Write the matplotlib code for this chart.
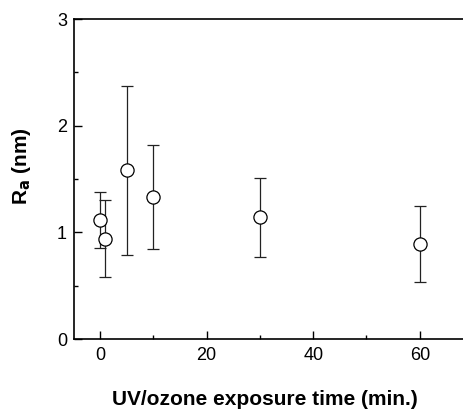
import matplotlib
matplotlib.use('Agg')
import matplotlib.pyplot as plt
from matplotlib.ticker import MultipleLocator

plt.rcParams['font.family'] = ['Liberation Sans', 'DejaVu Sans']

# exposure time (min) and Ra roughness (nm)
time = [0, 1, 5, 10, 30, 60]
ra = [1.12, 0.94, 1.58, 1.33, 1.14, 0.89]
ra_hi = [1.38, 1.30, 2.37, 1.82, 1.51, 1.25]
ra_lo = [0.85, 0.58, 0.79, 0.84, 0.77, 0.53]

err_lo = [r - l for r, l in zip(ra, ra_lo)]
err_hi = [h - r for r, h in zip(ra, ra_hi)]

fig = plt.figure(figsize=(4.64, 4.11), dpi=100)
ax = fig.add_axes([74/464, 72/411, 1 - 74/464, (339-19)/411])

ax.errorbar(time, ra, yerr=[err_lo, err_hi], fmt='o', color='black',
            mfc='white', mec='black', ms=9.5, mew=0.9, elinewidth=0.9,
            capsize=4.5, capthick=0.9, ecolor='#222222')

ax.set_xlim(-4.9, 68.3)
ax.set_ylim(0, 3)
ax.xaxis.set_major_locator(MultipleLocator(20))
ax.xaxis.set_minor_locator(MultipleLocator(10))
ax.yaxis.set_major_locator(MultipleLocator(1))
ax.yaxis.set_minor_locator(MultipleLocator(0.5))
ax.tick_params(which='both', direction='in', labelsize=13, width=1)
ax.tick_params(which='major', length=6)
ax.tick_params(which='minor', length=3)
ax.tick_params(axis='x', pad=6)
ax.tick_params(axis='y', pad=5)
ax.spines['right'].set_visible(False)
for s in ['left', 'top', 'bottom']:
    ax.spines[s].set_linewidth(1.2)

ax.set_xlabel('UV/ozone exposure time (min.)', fontsize=15, fontweight='bold')
ax.xaxis.set_label_coords(0.49, -0.158)
ax.set_ylabel(r'R$_\mathbf{a}$ (nm)', fontsize=15, fontweight='bold')
ax.yaxis.set_label_coords(-0.105, 0.54)

fig.savefig('out.png', dpi=100)
